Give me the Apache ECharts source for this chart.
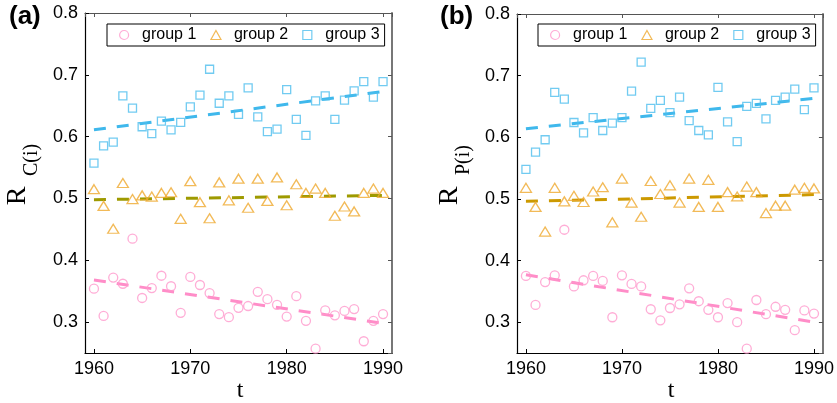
<!DOCTYPE html>
<html>
<head>
<meta charset="utf-8">
<script src="https://cdn.jsdelivr.net/npm/echarts@6/dist/echarts.min.js"></script>
<style>html,body{margin:0;padding:0;background:#fff;}#c{width:837px;height:403px;}</style>
</head>
<body>
<div id="c"></div>
<script>
const years = [1960,1961,1962,1963,1964,1965,1966,1967,1968,1969,1970,1971,1972,1973,1974,1975,1976,1977,1978,1979,1980,1981,1982,1983,1984,1985,1986,1987,1988,1989,1990];
const xTicks = [1960, 1970, 1980, 1990];
const yTicks = [0.3, 0.4, 0.5, 0.6, 0.7, 0.8];
const groupNames = ['group 1', 'group 2', 'group 3'];

// panel (a) R_C(i)
const a_g1 = [0.354,0.310,0.372,0.362,0.435,0.339,0.355,0.375,0.358,0.315,0.373,0.360,0.347,0.313,0.308,0.323,0.326,0.349,0.337,0.328,0.309,0.342,0.302,0.257,0.319,0.311,0.318,0.321,0.269,0.302,0.313];
const a_g2 = [0.515,0.488,0.451,0.525,0.499,0.505,0.503,0.509,0.510,0.467,0.528,0.494,0.468,0.526,0.497,0.532,0.485,0.532,0.496,0.534,0.489,0.523,0.509,0.516,0.509,0.472,0.487,0.479,0.509,0.516,0.509];
const a_g3 = [0.557,0.585,0.591,0.666,0.646,0.616,0.605,0.625,0.611,0.623,0.648,0.667,0.709,0.654,0.666,0.636,0.679,0.632,0.608,0.612,0.676,0.628,0.602,0.658,0.666,0.628,0.659,0.674,0.689,0.664,0.689];
// panel (b) R_P(i)
const b_g1 = [0.375,0.328,0.365,0.376,0.450,0.358,0.368,0.375,0.367,0.308,0.376,0.362,0.358,0.321,0.303,0.323,0.329,0.355,0.334,0.320,0.308,0.331,0.300,0.257,0.336,0.313,0.325,0.320,0.287,0.319,0.314];
const b_g2 = [0.518,0.487,0.447,0.518,0.496,0.505,0.495,0.512,0.519,0.462,0.533,0.494,0.471,0.529,0.508,0.522,0.494,0.533,0.487,0.531,0.487,0.511,0.504,0.520,0.511,0.477,0.489,0.489,0.515,0.518,0.517];
const b_g3 = [0.548,0.576,0.596,0.673,0.662,0.624,0.607,0.632,0.611,0.623,0.632,0.675,0.722,0.647,0.660,0.640,0.665,0.627,0.611,0.604,0.681,0.625,0.593,0.650,0.655,0.630,0.660,0.665,0.678,0.645,0.680];
// linear trend end values
const trendYears = [1960, 1990];
const a_t1 = [0.368, 0.298];
const a_t2 = [0.498, 0.505];
const a_t3 = [0.611, 0.673];
const b_t1 = [0.377, 0.300];
const b_t2 = [0.496, 0.507];
const b_t3 = [0.614, 0.663];

const SANS = '"Liberation Sans", Arial, sans-serif';
const SERIF = '"Liberation Serif", "Times New Roman", serif';
const markColors = ['#FF99CC', '#EFA92E', '#4DBEEE'];
const trendColorsA = ['#FF8DC8', '#9E9A00', '#3FB8EC'];
const trendColorsB = ['#FF8DC8', '#CC9900', '#3FB8EC'];
const symbols = ['circle', 'triangle', 'rect'];
const symbolSizes = [9, [11, 9], 8];
const legendIcons = [
  'path://M0,5 A5,5 0 1,1 10,5 A5,5 0 1,1 0,5 Z',
  'path://M5,0 L10,9 L0,9 Z',
  'path://M0,0 L10,0 L10,10 L0,10 Z'
];

const zip = (xs, ys) => xs.map((x, i) => [x, ys[i]]);

const X_MIN = 1959.07, X_MAX = 1990.93, Y_MIN = 0.25, Y_MAX = 0.8;

function xAxes(gi) {
  return [
    { gridIndex: gi, type: 'value', position: 'bottom', min: X_MIN, max: X_MAX, splitNumber: 3, minInterval: 10, maxInterval: 10,
      axisLine: { show: true, onZero: false, lineStyle: { color: '#000', width: 1.2 } },
      axisTick: { inside: true, length: 4, lineStyle: { color: '#000' } },
      axisLabel: { color: '#000', fontSize: 18, fontFamily: SANS, margin: 7, showMinLabel: false, showMaxLabel: false,
        formatter: v => (xTicks.indexOf(Math.round(v)) >= 0 && Math.abs(v - Math.round(v)) < 1e-6) ? String(Math.round(v)) : '' },
      splitLine: { show: false } },
    { gridIndex: gi, type: 'value', position: 'top', min: X_MIN, max: X_MAX, splitNumber: 3, minInterval: 10, maxInterval: 10,
      axisLine: { show: true, onZero: false, lineStyle: { color: '#555', width: 1.2 } },
      axisTick: { inside: true, length: 4, lineStyle: { color: '#555' } },
      axisLabel: { show: false }, splitLine: { show: false } }
  ];
}
function yAxes(gi) {
  return [
    { gridIndex: gi, type: 'value', position: 'left', min: Y_MIN, max: Y_MAX, splitNumber: 5, minInterval: 0.1, maxInterval: 0.1,
      axisLine: { show: true, onZero: false, lineStyle: { color: '#000', width: 1.2 } },
      axisTick: { inside: true, length: 4, lineStyle: { color: '#000' } },
      axisLabel: { color: '#000', fontSize: 18, fontFamily: SANS, margin: 7, showMinLabel: false,
        formatter: v => { const r = Math.round(v * 10) / 10; return (Math.abs(v - r) < 1e-6 && yTicks.indexOf(r) >= 0) ? r.toFixed(1) : ''; } },
      splitLine: { show: false } },
    { gridIndex: gi, type: 'value', position: 'right', min: Y_MIN, max: Y_MAX, splitNumber: 5, minInterval: 0.1, maxInterval: 0.1,
      axisLine: { show: true, onZero: false, lineStyle: { color: '#777', width: 2 } },
      axisTick: { inside: true, length: 4, lineStyle: { color: '#555' } },
      axisLabel: { show: false }, splitLine: { show: false } }
  ];
}

function panelSeries(gi, groups, trends, trendColors) {
  const out = [];
  trends.forEach((t, k) => {
    out.push({ type: 'line', xAxisIndex: gi * 2, yAxisIndex: gi * 2, data: zip(trendYears, t), showSymbol: false, symbol: 'none',
      silent: true, z: 2, lineStyle: { color: trendColors[k], width: 3, type: [12, 11], cap: 'butt' } });
  });
  groups.forEach((g, k) => {
    out.push({ type: 'scatter', name: groupNames[k], xAxisIndex: gi * 2, yAxisIndex: gi * 2, data: zip(years, g),
      symbol: symbols[k], symbolSize: symbolSizes[k], z: 3,
      itemStyle: { color: 'rgba(255,255,255,0)', borderColor: markColors[k], borderWidth: 1.3 } });
  });
  return out;
}

function legend(left) {
  return { left: left, top: 24, orient: 'horizontal', selectedMode: false,
    data: groupNames.map((n, k) => ({ name: n, icon: legendIcons[k],
      itemStyle: { color: 'rgba(255,255,255,0)', borderColor: markColors[k], borderWidth: 1.2 } })),
    itemWidth: 10, itemHeight: 9, itemGap: 14, padding: [3, 5, 3, 12], symbolKeepAspect: true,
    borderColor: '#000', borderWidth: 1, backgroundColor: '#fff',
    textStyle: { color: '#000', fontSize: 16, fontFamily: SANS, padding: [0, 0, 0, 8] } };
}

const chart = echarts.init(document.getElementById('c'), null, { renderer: 'canvas' });
chart.setOption({
  backgroundColor: '#fff',
  animation: false,
  grid: [
    { left: 85, top: 13, width: 307, height: 340 },
    { left: 517, top: 14, width: 306, height: 339 }
  ],
  xAxis: [...xAxes(0), ...xAxes(1)],
  yAxis: [...yAxes(0), ...yAxes(1)],
  legend: [legend(107), legend(538)],
  series: [
    ...panelSeries(0, [a_g1, a_g2, a_g3], [a_t1, a_t2, a_t3], trendColorsA),
    ...panelSeries(1, [b_g1, b_g2, b_g3], [b_t1, b_t2, b_t3], trendColorsB)
  ],
  graphic: [
    { type: 'text', left: 9, top: 4, style: { text: '(a)', font: 'bold 26px ' + SANS, fill: '#000' } },
    { type: 'text', left: 440, top: 4, style: { text: '(b)', font: 'bold 26px ' + SANS, fill: '#000' } },
    { type: 'text', x: 18, y: 196, rotation: Math.PI / 2, style: { text: 'R', font: '28px ' + SERIF, fill: '#000', align: 'center', verticalAlign: 'middle' } },
    { type: 'text', x: 32, y: 160, rotation: Math.PI / 2, style: { text: 'C(i)', font: '20px ' + SERIF, fill: '#000', align: 'center', verticalAlign: 'middle' } },
    { type: 'text', x: 450, y: 196, rotation: Math.PI / 2, style: { text: 'R', font: '28px ' + SERIF, fill: '#000', align: 'center', verticalAlign: 'middle' } },
    { type: 'text', x: 464, y: 160, rotation: Math.PI / 2, style: { text: 'P(i)', font: '20px ' + SERIF, fill: '#000', align: 'center', verticalAlign: 'middle' } },
    { type: 'text', x: 240, y: 391, style: { text: 't', font: '24px ' + SERIF, fill: '#000', align: 'center', verticalAlign: 'middle' } },
    { type: 'text', x: 671, y: 391, style: { text: 't', font: '24px ' + SERIF, fill: '#000', align: 'center', verticalAlign: 'middle' } }
  ]
});
</script>
</body>
</html>
